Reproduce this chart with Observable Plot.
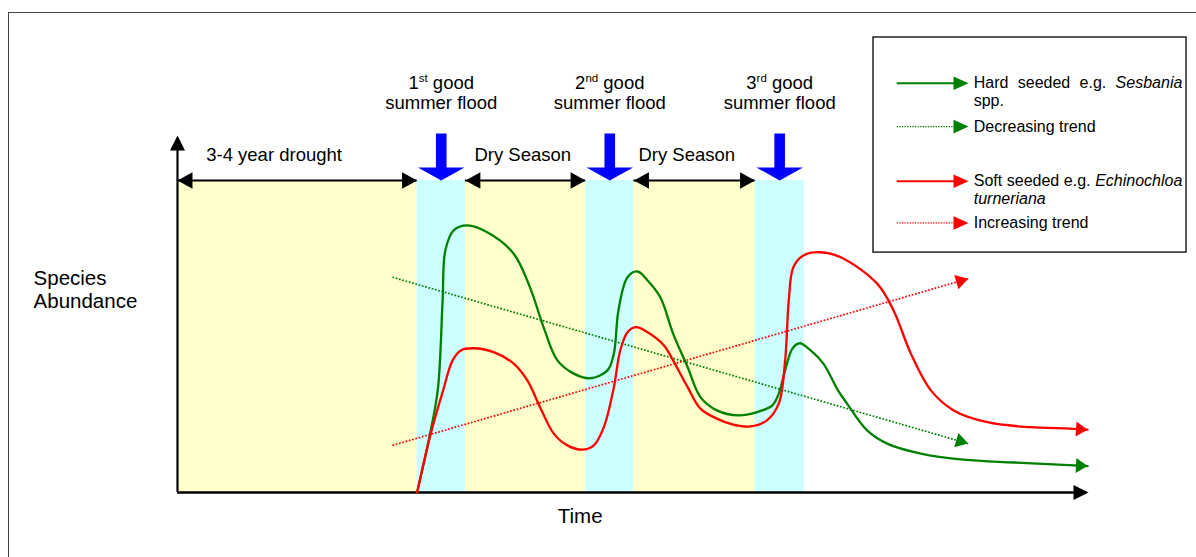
<!DOCTYPE html>
<html><head><meta charset="utf-8">
<script src="https://cdn.jsdelivr.net/npm/d3@7"></script>
<script src="https://cdn.jsdelivr.net/npm/@observablehq/plot@0.6"></script>
<style>
html,body{margin:0;padding:0;background:#fff;overflow:hidden}
#wrap{position:relative;width:1196px;height:557px;overflow:hidden}
#chart svg{display:block}
#frame{position:absolute;left:8px;top:12px;width:1250px;height:600px;border-left:1.5px solid #444;border-top:1.5px solid #444;pointer-events:none}
</style></head><body>
<div id="wrap"><div id="chart"></div><div id="frame"></div></div>
<script>
// ---------------- data (arbitrary time / abundance units) ----------------
const periodNames = ["3-4 year drought", "1st good summer flood", "Dry Season", "2nd good summer flood", "Dry Season", "3rd good summer flood"];
const periodKinds = ["drought", "flood", "dry", "flood", "dry", "flood"];
const periodStart = [0, 26.3, 31.6, 44.8, 50.1, 63.4];
const periodEnd   = [26.3, 31.6, 44.8, 50.1, 63.4, 68.8];
const periodTop = 87.4;

const hardTime  = [26.3,27.8,28.6,29.1,29.4,30.3,31.8,34.0,36.9,38.7,40.2,41.7,43.5,45.3,47.2,47.9,48.4,49.4,50.5,51.6,53.0,54.4,56.0,57.4,59.2,61.6,63.6,65.3,66.0,66.7,67.5,68.3,69.5,70.9,72.5,73.5,75.7,77.9,81.6,86.3,91.8,98.4,99.9];
const hardAbund = [0,17.4,29.4,53.8,67.8,73.4,74.8,72.9,66.9,57.4,46.2,37.0,33.3,32.0,34.2,38.9,51.0,60.3,61.9,59.4,54.7,44.5,35.1,26.7,23.0,21.6,22.5,24.4,27.7,34.2,40.3,41.8,39.8,36.1,28.6,24.9,17.4,13.7,10.9,9.2,8.4,7.6,7.4];

const softTime  = [26.3,27.8,29.1,30.2,31.1,32.5,34.7,36.9,38.4,39.8,41.3,42.8,44.4,45.7,46.8,47.9,48.6,49.4,50.3,51.6,53.4,54.4,56.0,57.4,59.2,61.0,62.9,64.7,66.0,66.7,67.1,67.6,68.7,70.6,72.8,76.8,78.6,80.5,82.7,85.2,88.9,93.6,98.0,99.9];
const softAbund = [0,16.5,28.1,37.0,39.8,40.4,39.3,36.1,31.4,23.9,16.5,13.2,12.0,13.2,18.3,29.5,39.8,44.9,46.3,44.9,41.2,37.0,29.5,23.5,20.7,19.0,18.5,20.2,24.9,37.0,53.8,63.1,66.4,67.3,65.9,58.5,51.0,38.9,28.6,23.0,19.7,18.3,17.9,17.6];

const trendTime = [23.6, 86.8];
const hardTrend = [60.3, 13.7];
const softTrend = [13.2, 59.9];

const legendLines = [["Hard seeded e.g. Sesbania", "spp."], ["Decreasing trend"], ["Soft seeded e.g. Echinochloa", "turneriana"], ["Increasing trend"]];
const legendColors = ["#008000", "#008000", "#ff0000", "#ff0000"];
const legendDotted = [false, true, false, true];
const italicWords = ["Sesbania", "Echinochloa", "turneriana"];

const yLabel = "Species\nAbundance";
const xLabel = "Time";

// ---------------- layout ----------------
const XD = [0, 100], XR = [177, 1088], YD = [0, 100], YR = [492, 135];
const xs = d3.scaleLinear(XD, XR), ys = d3.scaleLinear(YD, YR);
const GREEN = "#008000", RED = "#ff0000", BLUE = "#0000ff";
const FONT = "'Liberation Sans', Arial, sans-serif";
const kindFill = {drought: "#ffffcc", dry: "#ffffcc", flood: "#ccffff"};
const periodLabelX = [10.6, 37.9, 55.9];
const periodLabelY = 94.4;
const floodLabelY = [114.6, 109.0];
const legendBox = {x1: 76.4, x2: 110.76, y1: 67.2, y2: 127.45};
const legendSwatch = [79.0, 86.83], legendTextX = 87.4, legendRightX = 110.3;
const legendRowY = [114.65, 102.5, 87.2, 75.5], legendLineStep = 4.9;

// ---------------- derived tables ----------------
const periods = periodNames.map((name, i) => ({name, kind: periodKinds[i], start: periodStart[i], end: periodEnd[i], mid: (periodStart[i] + periodEnd[i]) / 2}));
const floods = periods.filter(d => d.kind === "flood");
const drys = periods.filter(d => d.kind !== "flood").map((d, i) => ({...d, lx: periodLabelX[i]}));
const hard = hardTime.map((t, i) => ({t, a: hardAbund[i]}));
const soft = softTime.map((t, i) => ({t, a: softAbund[i]}));
const hardT = trendTime.map((t, i) => ({t, a: hardTrend[i]}));
const softT = trendTime.map((t, i) => ({t, a: softTrend[i]}));

function endAngle(arr) {
  const n = arr.length, p = arr[n - 2], q = arr[n - 1];
  const dx = xs(q.t) - xs(p.t), dy = ys(q.a) - ys(p.a);
  return Math.atan2(dx, -dy) * 180 / Math.PI;
}
const tri = {draw(ctx, l, r) { ctx.moveTo(-r, 0); ctx.lineTo(0, -l); ctx.lineTo(r, 0); ctx.closePath(); }};
const blockArrow = {draw(ctx, l, r) {
  const s = 5.3, h = 13;
  ctx.moveTo(-s, 0); ctx.lineTo(-s, -(l - h)); ctx.lineTo(-r, -(l - h)); ctx.lineTo(0, -l);
  ctx.lineTo(r, -(l - h)); ctx.lineTo(s, -(l - h)); ctx.lineTo(s, 0); ctx.closePath();
}};

const curveEnds = [
  {...hard[hard.length - 1], c: GREEN, r: endAngle(hard), len: 15},
  {...soft[soft.length - 1], c: RED, r: endAngle(soft), len: 15},
  {...hardT[1], c: GREEN, r: endAngle(hardT), len: 16},
  {...softT[1], c: RED, r: endAngle(softT), len: 16}
];
const dryHeads = drys.flatMap(d => [{x: d.start, r: -90}, {x: d.end, r: 90}]);

const legendRows = legendLines.map((lines, i) => ({lines, c: legendColors[i], dotted: legendDotted[i], y: legendRowY[i]}));
const legendTexts = legendRows.flatMap(r => r.lines.map((text, j) => ({text, y: r.y - j * legendLineStep})));

const chart = Plot.plot({
  width: 1196, height: 557, margin: 0,
  x: {domain: XD, range: XR, axis: null},
  y: {domain: YD, range: YR, axis: null},
  style: {fontFamily: FONT, background: "transparent", overflow: "visible"},
  marks: [
    // season bands
    Plot.rect(periods, {x1: "start", x2: "end", y1: 0, y2: periodTop, fill: d => kindFill[d.kind]}),
    // axes
    Plot.ruleY([0], {x1: 0, x2: 99, stroke: "black", strokeWidth: 2.6}),
    Plot.ruleX([0], {y1: 0, y2: 98, stroke: "black", strokeWidth: 2.2}),
    Plot.vector([{x: 100, y: 0, r: 90}, {x: 0, y: 100, r: 0}], {x: "x", y: "y", rotate: "r", anchor: "end", length: 15, r: 7.5, shape: tri, fill: "black", stroke: "none"}),
    // dry-period double arrows
    Plot.ruleY(drys, {y: periodTop, x1: "start", x2: "end", stroke: "black", strokeWidth: 2}),
    Plot.vector(dryHeads, {x: "x", y: periodTop, rotate: "r", anchor: "end", length: 15, r: 8.3, shape: tri, fill: "black", stroke: "none"}),
    Plot.text(drys, {x: "lx", y: periodLabelY, text: "name", fontSize: 18.5, fill: "black", textAnchor: "middle", lineAnchor: "middle"}),
    // flood arrows + labels
    Plot.vector(floods, {x: "mid", y: periodTop, rotate: 180, anchor: "end", length: 47, r: 23.3, shape: blockArrow, fill: BLUE, stroke: "none"}),
    Plot.text(floods, {x: "mid", y: floodLabelY[0], text: d => d.name.replace(/ summer flood$/, ""), fontSize: 18.5, fill: "black", textAnchor: "middle", lineAnchor: "middle"}),
    Plot.text(floods, {x: "mid", y: floodLabelY[1], text: d => "summer flood", fontSize: 18.5, fill: "black", textAnchor: "middle", lineAnchor: "middle"}),
    // trends
    Plot.line(hardT, {x: "t", y: "a", stroke: GREEN, strokeWidth: 1.7, strokeDasharray: "1.7,1.7", strokeLinecap: "butt"}),
    Plot.line(softT, {x: "t", y: "a", stroke: RED, strokeWidth: 1.7, strokeDasharray: "1.7,1.7", strokeLinecap: "butt"}),
    // abundance curves
    Plot.line(hard, {x: "t", y: "a", stroke: GREEN, strokeWidth: 2.3, curve: "catmull-rom"}),
    Plot.line(soft, {x: "t", y: "a", stroke: RED, strokeWidth: 2.3, curve: "catmull-rom"}),
    Plot.vector(curveEnds, {x: "t", y: "a", rotate: "r", length: "len", anchor: "end", r: 7.5, shape: tri, fill: "c", stroke: "none"}),
    // axis titles
    Plot.text([yLabel], {x: -15.8, y: 57.0, text: d => d, fontSize: 20.5, lineHeight: 1.12, fill: "black", textAnchor: "start", lineAnchor: "middle"}),
    Plot.text([xLabel], {x: 44.2, y: -6.7, text: d => d, fontSize: 20.5, fill: "black", textAnchor: "middle", lineAnchor: "middle"}),
    // legend
    Plot.rect([legendBox], {x1: "x1", x2: "x2", y1: "y1", y2: "y2", fill: "white", stroke: "black", strokeWidth: 1.3}),
    Plot.ruleY(legendRows.filter(d => !d.dotted), {y: "y", x1: legendSwatch[0], x2: legendSwatch[1] - 1, stroke: "c", strokeWidth: 2}),
    Plot.ruleY(legendRows.filter(d => d.dotted), {y: "y", x1: legendSwatch[0], x2: legendSwatch[1] - 1, stroke: "c", strokeWidth: 1.3, strokeDasharray: "1.3,1.3"}),
    Plot.vector(legendRows, {x: legendSwatch[1], y: "y", rotate: 90, anchor: "end", length: 15, r: 6.8, shape: tri, fill: "c", stroke: "none"}),
    Plot.text(legendTexts, {x: legendTextX, y: "y", text: "text", fontSize: 16, fill: "black", textAnchor: "start", lineAnchor: "middle"})
  ]
});

document.getElementById("chart").append(chart);

// superscript ordinals, italic species names, justified legend lines
const rightPx = chart.scale("x").apply(legendRightX);
const leftPx = chart.scale("x").apply(legendTextX);
d3.select(chart).selectAll("text").each(function () {
  const s = d3.select(this);
  const t = this.textContent;
  const m = t.match(/^(\d)(st|nd|rd)(\s.*)$/);
  if (m) {
    s.text(null);
    s.append("tspan").text(m[1]);
    s.append("tspan").attr("dy", "-7").attr("font-size", 11.5).text(m[2]);
    s.append("tspan").attr("dy", "7").text(m[3]);
    return;
  }
  const w = italicWords.find(w => t.includes(w));
  if (w) {
    const [a, b] = t.split(w);
    s.text(null);
    if (a) s.append("tspan").text(a);
    s.append("tspan").attr("font-style", "italic").text(w);
    if (b) s.append("tspan").text(b);
    const gaps = (t.match(/ /g) || []).length;
    if (gaps > 0 && legendLines.some(l => l.length > 1 && l[0] === t)) {
      const len = this.getComputedTextLength();
      s.attr("word-spacing", ((rightPx - leftPx - len) / gaps).toFixed(2));
    }
  }
});
</script>
</body></html>
